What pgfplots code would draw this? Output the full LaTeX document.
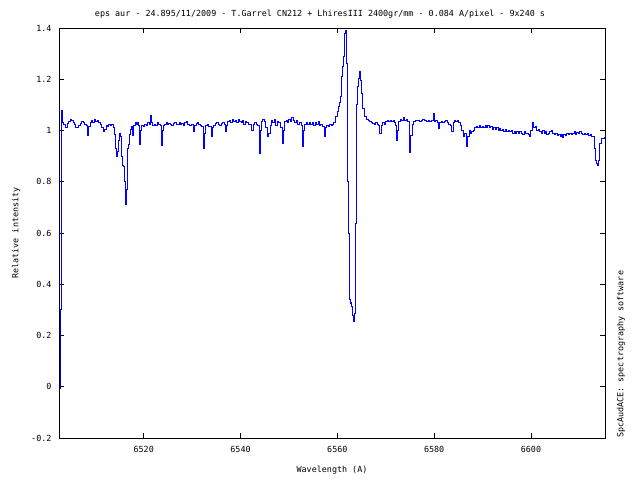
\documentclass[border=0pt]{standalone}
\usepackage{fontspec}
\setmainfont{DejaVu Sans Mono}
\setmonofont{DejaVu Sans Mono}
\usepackage{pgfplots}
\pgfplotsset{compat=1.18}
\usepackage{pgfplotstable}

% spectrum (wavelength in A, relative intensity)
\pgfplotstableread{
lam val
6502.55 -0.005
6502.75 0.000
6502.85 0.30
6502.95 0.42
6503.05 1.08
6503.2 1.03
6503.5 1.025
6503.9 1.012
6504.2 1.028
6504.5 1.035
6504.8 1.045
6505.1 1.040
6505.4 1.030
6505.7 1.025
6506.0 1.012
6506.3 1.010
6506.6 1.020
6506.9 1.028
6507.2 1.035
6507.5 1.030
6507.8 1.025
6508.1 1.020
6508.4 0.982
6508.6 1.015
6508.9 1.030
6509.2 1.038
6509.5 1.030
6509.8 1.045
6510.1 1.035
6510.4 1.040
6510.7 1.030
6511.0 1.025
6511.3 1.010
6511.6 0.995
6511.9 1.005
6512.2 1.020
6512.5 1.015
6512.8 1.022
6513.1 1.018
6513.4 1.025
6513.7 1.010
6514.0 0.985
6514.2 0.93
6514.4 0.90
6514.6 0.92
6514.8 0.96
6515.0 0.99
6515.2 0.975
6515.4 0.90
6515.6 0.865
6515.8 0.858
6516.0 0.80
6516.15 0.74
6516.3 0.713
6516.45 0.77
6516.6 0.93
6516.8 0.945
6517.0 0.985
6517.2 1.005
6517.4 1.015
6517.7 0.98
6517.9 1.02
6518.2 1.03
6518.5 1.025
6518.8 1.03
6519.0 1.02
6519.2 0.945
6519.4 1.00
6519.6 1.02
6519.9 1.015
6520.2 1.025
6520.5 1.02
6520.8 1.03
6521.1 1.025
6521.4 1.06
6521.6 1.03
6521.9 1.02
6522.2 1.025
6522.5 1.02
6522.8 1.03
6523.1 1.025
6523.4 1.02
6523.6 0.943
6523.8 1.00
6524.0 1.02
6524.3 1.025
6524.6 1.03
6524.9 1.022
6525.2 1.028
6525.5 1.025
6525.8 1.02
6526.1 1.028
6526.4 1.032
6526.7 1.025
6527.0 1.022
6527.3 1.03
6527.6 1.025
6527.9 1.028
6528.2 1.02
6528.5 1.03
6528.8 1.035
6529.1 1.025
6529.4 1.02
6529.8 1.025
6530.25 0.995
6530.5 1.02
6530.8 1.028
6531.1 1.03
6531.4 1.025
6531.7 1.02
6532.0 1.015
6532.3 0.93
6532.5 0.99
6532.8 1.02
6533.1 1.025
6533.4 1.015
6533.9 0.976
6534.2 1.01
6534.5 1.02
6534.8 1.028
6535.1 1.03
6535.4 1.025
6535.7 1.02
6536.0 1.028
6536.3 1.03
6536.6 1.025
6536.85 0.998
6537.1 1.02
6537.4 1.035
6537.7 1.04
6538.0 1.03
6538.3 1.045
6538.6 1.035
6538.9 1.04
6539.2 1.03
6539.5 1.045
6539.8 1.035
6540.1 1.03
6540.4 1.04
6540.7 1.025
6541.0 1.035
6541.3 1.03
6541.6 1.025
6542.3 1.0
6542.6 1.025
6542.9 1.03
6543.2 1.025
6543.5 1.02
6543.9 0.911
6544.1 1.0
6544.3 1.035
6544.6 1.045
6544.9 1.035
6545.2 1.01
6545.5 0.975
6545.8 0.99
6546.1 1.02
6546.4 1.04
6546.7 1.03
6547.0 1.045
6547.3 1.02
6547.6 1.035
6547.9 1.03
6548.2 1.01
6548.6 0.95
6548.8 1.0
6549.1 1.035
6549.4 1.04
6549.7 1.03
6550.0 1.045
6550.3 1.035
6550.6 1.05
6550.9 1.04
6551.2 1.03
6551.5 1.04
6551.8 1.025
6552.1 1.03
6552.5 1.02
6552.8 0.937
6553.0 1.0
6553.3 1.025
6553.6 1.03
6553.9 1.025
6554.2 1.03
6554.5 1.025
6554.8 1.03
6555.1 1.02
6555.4 1.03
6555.7 1.025
6556.0 1.035
6556.3 1.02
6556.6 1.025
6557.0 1.015
6557.3 0.976
6557.5 1.01
6557.8 1.02
6558.1 1.015
6558.4 1.025
6558.7 1.02
6559.0 1.025
6559.3 1.03
6559.7 1.054
6560.0 1.075
6560.2 1.093
6560.4 1.11
6560.6 1.132
6560.8 1.21
6561.0 1.249
6561.2 1.288
6561.4 1.36
6561.5 1.379
6561.7 1.392
6561.8 1.37
6561.9 1.262
6562.0 1.041
6562.15 0.80
6562.3 0.60
6562.5 0.365
6562.6 0.34
6562.8 0.326
6562.9 0.33
6563.0 0.312
6563.2 0.28
6563.3 0.254
6563.5 0.27
6563.6 0.287
6563.7 0.638
6563.9 0.989
6564.05 1.10
6564.2 1.171
6564.4 1.205
6564.55 1.229
6564.75 1.197
6564.95 1.145
6565.25 1.087
6565.5 1.065
6565.7 1.054
6566.0 1.045
6566.4 1.041
6566.7 1.035
6567.0 1.03
6567.3 1.028
6567.6 1.025
6567.9 1.03
6568.2 1.025
6568.5 1.02
6568.8 0.99
6569.1 1.02
6569.4 1.03
6569.7 1.025
6570.0 1.035
6570.3 1.04
6570.6 1.035
6570.9 1.04
6571.2 1.035
6571.5 1.04
6571.8 1.03
6572.0 1.02
6572.2 0.963
6572.4 1.0
6572.7 1.035
6573.0 1.045
6573.3 1.04
6573.6 1.05
6573.9 1.04
6574.2 1.045
6574.5 1.035
6574.8 1.02
6575.0 0.913
6575.2 0.98
6575.5 1.025
6575.8 1.035
6576.1 1.04
6576.4 1.038
6576.7 1.04
6577.0 1.035
6577.3 1.04
6577.6 1.042
6577.9 1.038
6578.2 1.04
6578.5 1.035
6578.8 1.04
6579.1 1.035
6579.5 1.04
6579.8 1.067
6580.0 1.035
6580.3 1.04
6580.6 1.03
6580.9 1.008
6581.2 1.03
6581.5 1.035
6581.8 1.03
6582.1 1.035
6582.4 1.04
6582.7 1.03
6583.0 1.025
6583.3 1.02
6583.6 0.998
6583.9 1.03
6584.2 1.04
6584.5 1.035
6584.8 1.04
6585.1 1.03
6585.4 1.02
6585.7 1.0
6586.0 0.975
6586.3 0.99
6586.7 0.937
6586.9 0.975
6587.2 1.0
6587.5 0.99
6587.8 0.995
6588.1 1.0
6588.4 1.01
6588.7 1.015
6589.0 1.01
6589.3 1.018
6589.6 1.012
6589.9 1.015
6590.2 1.01
6590.5 1.018
6590.8 1.012
6591.1 1.02
6591.4 1.01
6591.7 1.015
6592.0 1.005
6592.3 1.01
6592.6 1.003
6592.9 1.01
6593.2 1.0
6593.5 1.008
6593.8 1.0
6594.1 1.005
6594.4 0.998
6594.7 1.005
6595.0 0.995
6595.3 1.0
6595.6 0.995
6595.9 1.002
6596.2 0.99
6596.5 0.998
6596.8 0.99
6597.1 0.995
6597.4 0.988
6597.7 0.995
6598.0 0.99
6598.3 0.985
6598.6 0.995
6598.9 0.988
6599.2 0.99
6599.5 0.985
6599.7 0.976
6600.0 1.0
6600.3 1.032
6600.6 1.01
6600.9 1.015
6601.2 1.0
6601.5 1.005
6601.8 0.995
6602.1 0.99
6602.4 1.0
6602.7 0.99
6603.0 0.995
6603.3 0.985
6603.6 0.99
6603.9 0.995
6604.2 1.0
6604.5 0.99
6604.8 0.985
6605.1 0.99
6605.4 0.98
6605.7 0.985
6606.0 0.975
6606.2 0.985
6606.5 0.973
6606.8 0.985
6607.1 0.98
6607.4 0.99
6607.7 0.985
6608.0 0.99
6608.3 0.985
6608.6 0.99
6608.9 0.995
6609.2 0.985
6609.5 0.993
6609.8 0.988
6610.1 0.995
6610.4 0.99
6610.7 0.985
6611.0 0.99
6611.3 0.985
6611.6 0.99
6611.9 0.98
6612.3 0.985
6612.6 0.978
6612.9 0.976
6613.1 0.93
6613.3 0.885
6613.5 0.87
6613.7 0.865
6613.9 0.885
6614.2 0.95
6614.6 0.97
6615.1 0.975
}\spectrum

\begin{document}
\begin{tikzpicture}[font=\fontsize{8.4bp}{10bp}\selectfont]
\useasboundingbox (-59bp,-42bp) rectangle (581bp,438bp);
\begin{axis}[
    at={(0,0)}, anchor=south west,
    scale only axis,
    width=546bp, height=410bp,
    xmin=6502.5, xmax=6615.3,
    ymin=-0.2, ymax=1.4,
    xtick={6520,6540,6560,6580,6600},
    ytick={-0.2,0,0.2,0.4,0.6,0.8,1,1.2,1.4},
    scaled ticks=false,
    /pgf/number format/1000 sep={},
    /pgf/number format/assume math mode=true,
    tick align=inside,
    major tick length=5bp,
    tick style={black, line width=0.8bp},
    axis line style={line width=0.8bp},
    xticklabel style={yshift=-5bp},
    yticklabel style={xshift=-4bp},
    clip=true,
]
\addplot[color={rgb,255:red,0;green,0;blue,255}, line width=0.9bp, const plot, mark=none] table[x=lam, y=val] {\spectrum};
\end{axis}
\node at (261bp,424bp) {eps aur - 24.895/11/2009 - T.Garrel CN212 + LhiresIII 2400gr/mm - 0.084 A/pixel - 9x240 s};
\node at (273bp,-32bp) {Wavelength (A)};
\node[rotate=90] at (-43bp,205bp) {Relative intensity};
\node[rotate=90, anchor=west, inner sep=0pt] at (562bp,0bp) {SpcAudACE: spectrography software};
\end{tikzpicture}
\end{document}
